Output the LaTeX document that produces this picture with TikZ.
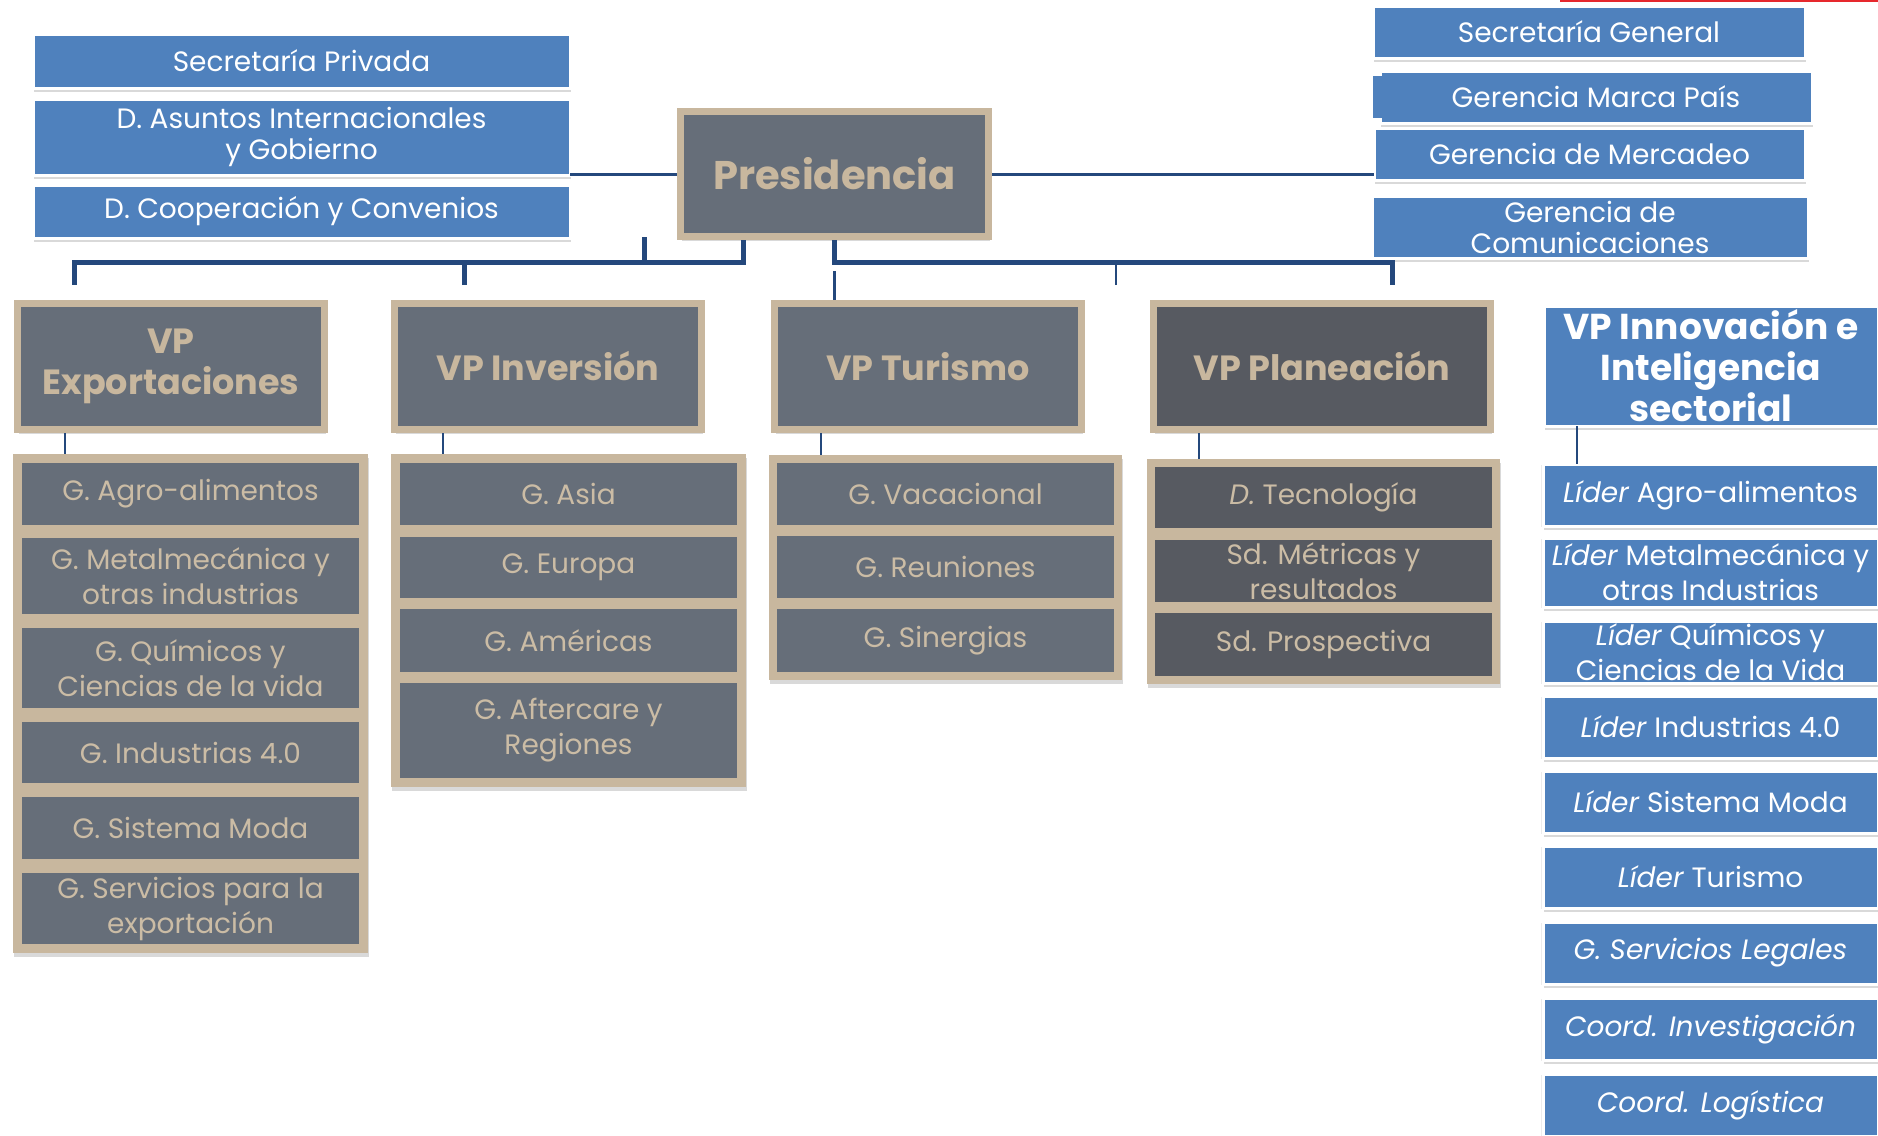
\documentclass[tikz,border=0pt]{standalone}
\usepackage{fontspec}
\setmainfont{Poppins}
\usetikzlibrary{positioning}
\usetikzlibrary{fit}
\usetikzlibrary{shadows}
\usetikzlibrary{backgrounds}

\definecolor{ppblue}{RGB}{79,129,189}
\definecolor{ppgray}{RGB}{102,110,121}
\definecolor{ppdark}{RGB}{87,90,97}
\definecolor{pptan}{RGB}{200,183,158}
\definecolor{pptext}{RGB}{203,188,165}
\definecolor{ppline}{RGB}{36,72,124}
\definecolor{ppred}{RGB}{230,40,45}

\tikzset{
  unitbox/.style={rectangle,fill=ppblue,draw=white,line width=3pt,text=white,
    font=\fontsize{28}{31}\selectfont,align=center,inner sep=0pt,outer sep=0pt,
    drop shadow={shadow xshift=1pt,shadow yshift=-4pt,opacity=.3}},
  vpbox/.style={rectangle,fill=ppgray,draw=pptan,line width=7pt,text=pptan,
    font=\fontsize{35}{41}\selectfont\bfseries,align=center,inner sep=0pt,
    minimum width=307pt,minimum height=126pt,
    drop shadow={shadow xshift=1pt,shadow yshift=-4pt,opacity=.3}},
  areabox/.style={rectangle,fill=ppgray,text=pptext,font=\fontsize{28}{35}\selectfont,
    align=center,inner sep=0pt,outer sep=0pt,minimum width=337pt},
  colbox/.style={rectangle,fill=pptan,inner sep=9pt,
    drop shadow={shadow xshift=1pt,shadow yshift=-4pt,opacity=.3}},
  liderbox/.style={unitbox,minimum width=335pt,minimum height=62pt,
    font=\fontsize{28}{35}\selectfont,
    drop shadow={shadow xshift=-2pt,shadow yshift=-1pt,opacity=.15}},
  bus/.style={draw=ppline,line width=5pt},
  link/.style={draw=ppline,line width=3pt},
  stub/.style={draw=ppline,line width=2.5pt},
}

\begin{document}
\begin{tikzpicture}[x=1pt,y=-1pt]
  \useasboundingbox (0,0) rectangle (1878,1135);

  % staff units
  \node [unitbox,minimum width=537pt,minimum height=54pt] (secpriv) at (301.5,61) {Secretaría Privada};
  \node [unitbox,minimum width=537pt,minimum height=76pt] (asuntos) at (301.5,137) {D. Asuntos Internacionales\\y Gobierno};
  \node [unitbox,minimum width=537pt,minimum height=53pt] (cooper) at (301.5,211.5) {D. Cooperación y Convenios};

  \node [vpbox,minimum width=308pt,minimum height=125pt,font=\fontsize{40}{44}\selectfont\bfseries] (pres) at (834.5,174) {Presidencia};

  \node [unitbox,minimum width=432pt,minimum height=52pt] (secgen) at (1589,32) {Secretaría General};
  \node [unitbox,minimum width=432pt,minimum height=52pt] (marca) at (1596,97) {Gerencia Marca País};
  \fill [ppblue] (1373,76) rectangle (1382,118);
  \node [unitbox,minimum width=431pt,minimum height=52pt] (mercadeo) at (1589.5,154) {Gerencia de Mercadeo};
  \node [unitbox,minimum width=436pt,minimum height=62pt] (comunic) at (1590,227) {Gerencia de\\Comunicaciones};

  \draw [ppred,line width=2pt] (1560,1) -- (1878,1);

  % vicepresidencias
  \node [vpbox] (vpexp) at (171,366.5) {VP\\Exportaciones};
  \node [vpbox] (vpinv) at (548,366.5) {VP Inversión};
  \node [vpbox] (vptur) at (928,366.5) {VP Turismo};
  \node [vpbox,fill=ppdark,minimum width=337pt] (vpplan) at (1322,366.5) {VP Planeación};
  \node [unitbox,minimum width=334pt,minimum height=120pt,font=\fontsize{36}{41}\selectfont\bfseries] (vpinn) at (1711,366) {VP Innovación e\\Inteligencia\\sectorial};

  % exportaciones
  \node [areabox,minimum height=62pt] (expagro) at (190.5,494) {G. Agro-alimentos};
  \node [areabox,minimum height=76pt,below=13pt of expagro] (expmetal) {G. Metalmecánica y\\otras industrias};
  \node [areabox,minimum height=80pt,below=14pt of expmetal] (expquim) {G. Químicos y\\Ciencias de la vida};
  \node [areabox,minimum height=61pt,below=14pt of expquim] (expind) {G. Industrias 4.0};
  \node [areabox,minimum height=62pt,below=14pt of expind] (expmoda) {G. Sistema Moda};
  \node [areabox,minimum height=71pt,below=14pt of expmoda] (expserv) {G. Servicios para la\\exportación};

  % inversion
  \node [areabox,minimum height=62pt] (invasia) at (568.5,494) {G. Asia};
  \node [areabox,minimum height=61pt,below=12pt of invasia] (inveur) {G. Europa};
  \node [areabox,minimum height=63pt,below=11pt of inveur] (invame) {G. Américas};
  \node [areabox,minimum height=95pt,below=11pt of invame] (invaft) {G. Aftercare y\\Regiones};

  % turismo
  \node [areabox,minimum height=62pt] (turvac) at (945.5,494) {G. Vacacional};
  \node [areabox,minimum height=62pt,below=11pt of turvac] (turreu) {G. Reuniones};
  \node [areabox,minimum height=63pt,below=11pt of turreu] (tursin) {G. Sinergias};

  % planeacion
  \node [areabox,fill=ppdark,minimum height=61pt] (plantec) at (1323.5,497.5) {\textit{D.} Tecnología};
  \node [areabox,fill=ppdark,minimum height=62pt,below=12pt of plantec] (planmet) {Sd. Métricas y\\resultados};
  \node [areabox,fill=ppdark,minimum height=63pt,below=11pt of planmet] (planpro) {Sd. Prospectiva};

  % innovacion
  \node [liderbox] (lidagro) at (1710.5,495) {\textit{Líder} Agro-alimentos};
  \node [liderbox,minimum height=69pt,below=12pt of lidagro] (lidmetal) {\textit{Líder} Metalmecánica y\\otras Industrias};
  \node [liderbox,below=14pt of lidmetal] (lidquim) {\textit{Líder} Químicos y\\Ciencias de la Vida};
  \node [liderbox,below=13pt of lidquim] (lidind) {\textit{Líder} Industrias 4.0};
  \node [liderbox,below=13pt of lidind] (lidmoda) {\textit{Líder} Sistema Moda};
  \node [liderbox,below=13pt of lidmoda] (lidtur) {\textit{Líder} Turismo};
  \node [liderbox,below=14pt of lidtur] (lidleg) {\textit{G. Servicios Legales}};
  \node [liderbox,below=14pt of lidleg] (lidinv) {\textit{Coord. Investigación}};
  \node [liderbox,below=14pt of lidinv] (lidlog) {\textit{Coord. Logística}};

  \begin{scope}[on background layer]
    \node [colbox,fit=(expagro) (expserv)] (expcol) {};
    \node [colbox,fit=(invasia) (invaft)] (invcol) {};
    \node [colbox,inner sep=8pt,fit=(turvac) (tursin)] (turcol) {};
    \node [colbox,inner sep=8pt,fit=(plantec) (planpro)] (plancol) {};
  \end{scope}

  % connectors
  \coordinate (busl) at (74,262);
  \coordinate (busm) at (743,262);
  \coordinate (busr) at (1392,262);
  \coordinate (busc) at (834.5,262);
  \coordinate (tinv) at (464,285);
  \coordinate (tcoop) at (644,237);
  \coordinate (ttur) at (834.5,271);
  \coordinate (tpl) at (1116,285);

  \draw [link] (pres.west) -- (pres.west -| asuntos.east);
  \draw [link] (pres.east) -- (pres.east -| mercadeo.west);

  \draw [bus] (pres.south -| busm) -- (busm) -- (busl) -- ++(0,23);
  \draw [bus] (tinv) -- (tinv |- busl);
  \draw [bus] (tcoop) -- (tcoop |- busl);
  \draw [bus] (pres.south) -- (busc) -- (busr) -- ++(0,23);
  \draw [stub] (tpl) -- (tpl |- busr);
  \draw [stub] (ttur) -- (ttur |- vptur.north);

  \coordinate (texp) at (65,0);
  \coordinate (tinv2) at (443,0);
  \coordinate (ttur2) at (821,0);
  \coordinate (tplan) at (1199,0);
  \coordinate (tinn) at (1577,0);
  \draw [stub] (vpexp.south -| texp) -- (expcol.north -| texp);
  \draw [stub] (vpinv.south -| tinv2) -- (invcol.north -| tinv2);
  \draw [stub] (vptur.south -| ttur2) -- (turcol.north -| ttur2);
  \draw [stub] (vpplan.south -| tplan) -- (plancol.north -| tplan);
  \draw [stub] (vpinn.south -| tinn) -- (lidagro.north -| tinn);
\end{tikzpicture}
\end{document}
